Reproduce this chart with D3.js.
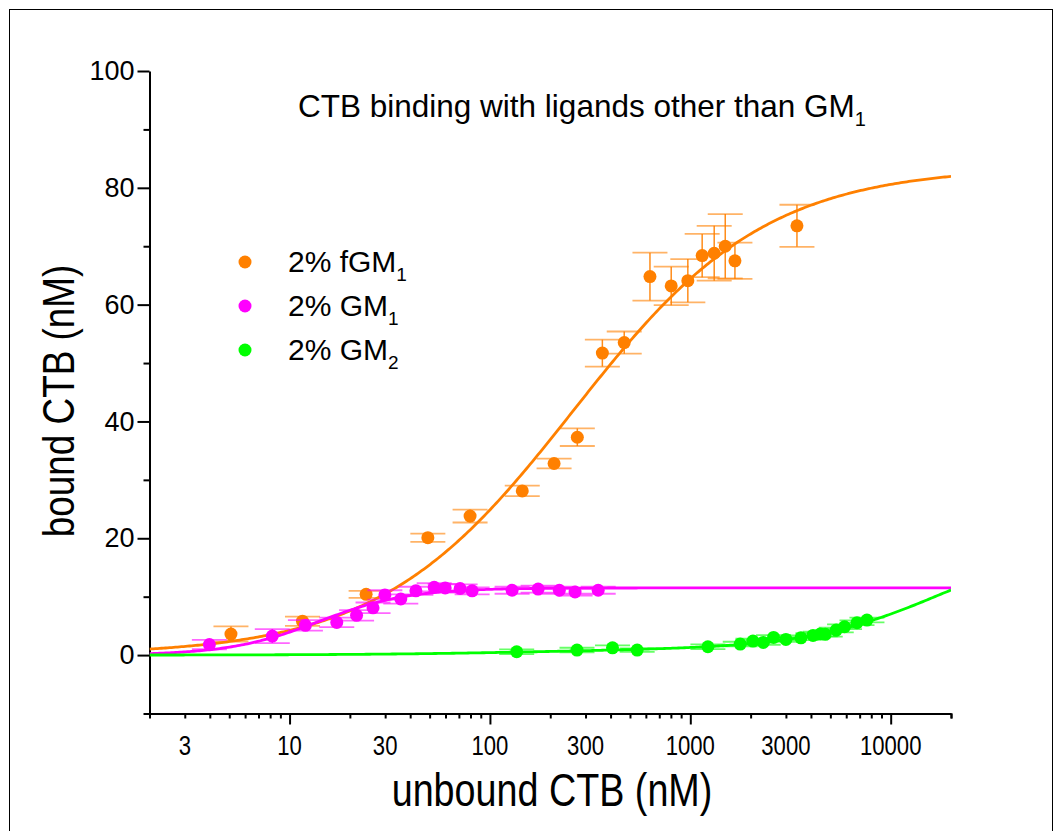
<!DOCTYPE html>
<html>
<head>
<meta charset="utf-8">
<script src="https://cdn.jsdelivr.net/npm/d3@7"></script>
<style>
  html, body { margin: 0; padding: 0; background: #fff; }
  svg { display: block; }
  text { font-family: "Liberation Sans", Arial, sans-serif; fill: #000; }
</style>
</head>
<body>
<svg id="chart" width="1055" height="831"></svg>
<script>
// ---- measured data: unbound CTB (nM) vs bound CTB (nM) ----
const fgm1X = [5.1, 11.6, 24.1, 49, 79.6, 145, 209, 273, 364, 468, 629, 803, 972, 1146, 1316, 1494, 1670, 3406];
const fgm1Y = [3.6, 5.8, 10.4, 20.1, 23.8, 28.1, 32.8, 37.3, 51.7, 53.5, 64.8, 63.2, 64.1, 68.4, 68.8, 70.0, 67.5, 73.5];
const fgm1Err = [1.3, 0.8, 0.6, 0.7, 1.1, 0.9, 0.85, 1.5, 2.3, 1.9, 4.1, 3.3, 3.7, 3.7, 4.7, 5.5, 3.1, 3.6];

const gm1X = [3.98, 8.2, 12.0, 17.2, 21.6, 26.1, 29.9, 35.9, 42.7, 52.7, 59.8, 71, 81.5, 129, 174, 222, 266, 347];
const gm1Y = [1.8, 3.25, 5.1, 5.6, 6.8, 8.1, 10.3, 9.6, 11.0, 11.6, 11.5, 11.4, 11.0, 11.1, 11.3, 11.1, 10.8, 11.1];
const gm1Err = [0.8, 1.2, 0.9, 0.8, 0.9, 0.9, 0.8, 0.8, 0.7, 0.7, 0.7, 0.7, 0.6, 0.6, 0.6, 0.6, 0.6, 0.6];

const gm2X = [136, 272, 409, 543, 1224, 1775, 2054, 2312, 2603, 3000, 3566, 4096, 4452, 4714, 5350, 5886, 6790, 7614];
const gm2Y = [0.57, 0.86, 1.25, 0.86, 1.43, 1.88, 2.4, 2.17, 3.03, 2.68, 2.96, 3.37, 3.6, 3.55, 4.28, 4.85, 5.54, 6.0];
const gm2Err = [0.4, 0.4, 0.4, 0.3, 0.4, 0.4, 0.4, 0.4, 0.4, 0.4, 0.4, 0.4, 0.4, 0.4, 0.4, 0.4, 0.4, 0.4];

// ---- fitted binding models ----
// Hill: [Bmax, Kd, n]
const fgm1Fit = [83.6, 260, 0.9];
const gm1Fit = [11.5, 14, 1.95];
// two sites: [B1, K1, B2, K2, n2]
const gm2Fit = [1.0, 150, 19, 18000, 1.3];

// ---- axes ----
const xDomain = [2, 20000];
const yDomain = [-10, 100];
const xMajorTicks = [10, 100, 1000, 10000];
const xLabelTicks = [3, 10, 30, 100, 300, 1000, 3000, 10000];
const yMajorTicks = [0, 20, 40, 60, 80, 100];
const yMinorTicks = [-10, 10, 30, 50, 70, 90];

const seriesNames = ["2% fGM", "2% GM", "2% GM"];
const seriesSubs = ["1", "1", "2"];
const colors = ["#FF8000", "#FF00FF", "#00FF00"];

const svg = d3.select("#chart");

// outer frame
svg.append("rect")
  .attr("x", 9.5).attr("y", 9.5).attr("width", 1043).attr("height", 900)
  .attr("fill", "none").attr("stroke", "#000").attr("stroke-width", 1);

const x = d3.scaleLog().domain(xDomain).range([149.5, 951]);
const y = d3.scaleLinear().domain(yDomain).range([713.5, 71]);

const hill = (p) => (c) => p[0] * Math.pow(c, p[2]) / (Math.pow(p[1], p[2]) + Math.pow(c, p[2]));
const twoSite = (p) => (c) => p[0] * c / (p[1] + c) + p[2] * Math.pow(c, p[4]) / (Math.pow(p[3], p[4]) + Math.pow(c, p[4]));
const models = [hill(fgm1Fit), hill(gm1Fit), twoSite(gm2Fit)];

// clip area
svg.append("defs").append("clipPath").attr("id", "plotClip")
  .append("rect").attr("x", 149.5).attr("y", 71).attr("width", 951 - 149.5).attr("height", 713.5 - 71);

// minor x ticks: 2..9 per decade
const xMinorTicks = [];
for (let d = 1; d <= 10000; d *= 10) {
  for (let k = 2; k <= 9; k++) {
    const v = k * d;
    if (v >= xDomain[0] && v <= xDomain[1] && !xMajorTicks.includes(v)) xMinorTicks.push(v);
  }
}
xMinorTicks.push(20000);

const axisStroke = (g) => {
  g.selectAll("path, line").attr("stroke", "#000").attr("stroke-width", 2);
};

// x axis minor ticks
svg.append("g").attr("transform", "translate(0,713.5)")
  .call(d3.axisBottom(x).tickValues(xMinorTicks).tickSize(5).tickSizeOuter(0).tickFormat(""))
  .call(axisStroke);
// x axis major ticks
svg.append("g").attr("transform", "translate(0,713.5)")
  .call(d3.axisBottom(x).tickValues(xMajorTicks).tickSize(11).tickSizeOuter(0).tickFormat(""))
  .call(axisStroke)
  .call(g => g.select(".domain").remove());
// x tick labels
svg.append("g").selectAll("text").data(xLabelTicks).join("text")
  .attr("transform", d => `translate(${x(d)},755) scale(0.82,1)`)
  .attr("text-anchor", "middle")
  .attr("font-size", 27)
  .text(d => d);

// y axis
svg.append("g").attr("transform", "translate(149.5,0)")
  .call(d3.axisLeft(y).tickValues(yMinorTicks).tickSize(6).tickSizeOuter(0).tickFormat(""))
  .call(axisStroke);
svg.append("g").attr("transform", "translate(149.5,0)")
  .call(d3.axisLeft(y).tickValues(yMajorTicks).tickSize(12).tickSizeOuter(0).tickPadding(3).tickFormat(d3.format("d")))
  .call(axisStroke)
  .call(g => g.select(".domain").remove())
  .call(g => g.selectAll("text").attr("font-size", 27).attr("font-family", "Liberation Sans, Arial, sans-serif").attr("fill", "#000"));

// axis titles
svg.append("text")
  .attr("transform", "translate(552,806) scale(0.82,1)")
  .attr("text-anchor", "middle").attr("font-size", 46)
  .text("unbound CTB (nM)");
svg.append("text")
  .attr("transform", "translate(74,401) rotate(-90) scale(0.82,1)")
  .attr("text-anchor", "middle").attr("font-size", 45)
  .text("bound CTB (nM)");

// chart title
const title = svg.append("text").attr("x", 298).attr("y", 117).attr("font-size", 31.5);
title.append("tspan").text("CTB binding with ligands other than GM");
title.append("tspan").attr("font-size", 20).attr("dy", 9).text("1");

// ---- series ----
const plot = svg.append("g").attr("clip-path", "url(#plotClip)");
const seriesData = [
  fgm1X.map((v, i) => ({ x: v, y: fgm1Y[i], e: fgm1Err[i] })),
  gm1X.map((v, i) => ({ x: v, y: gm1Y[i], e: gm1Err[i] })),
  gm2X.map((v, i) => ({ x: v, y: gm2Y[i], e: gm2Err[i] }))
];

const line = d3.line().x(d => x(d[0])).y(d => y(d[1]));
const samples = d3.range(0, 401).map(i => Math.pow(10, Math.log10(xDomain[0]) + i / 400 * (Math.log10(xDomain[1]) - Math.log10(xDomain[0]))));

seriesData.forEach((pts, si) => {
  const c = colors[si];
  const g = plot.append("g");
  // error bars with wide caps
  const eb = g.append("g");
  eb.selectAll("line.stem").data(pts).join("line")
    .attr("x1", d => x(d.x)).attr("x2", d => x(d.x))
    .attr("y1", d => y(d.y + d.e)).attr("y2", d => y(d.y - d.e))
    .attr("stroke", c).attr("stroke-width", 1.5).attr("stroke-opacity", 0.9);
  ["+", "-"].forEach(sgn => {
    eb.selectAll("line.cap" + (sgn === "+" ? "t" : "b")).data(pts).join("line")
      .attr("x1", d => x(d.x) - 17.5).attr("x2", d => x(d.x) + 17.5)
      .attr("y1", d => y(sgn === "+" ? d.y + d.e : d.y - d.e))
      .attr("y2", d => y(sgn === "+" ? d.y + d.e : d.y - d.e))
      .attr("stroke", c).attr("stroke-width", 1.8).attr("stroke-opacity", 0.6);
  });
  // fitted curve
  g.append("path")
    .datum(samples.map(s => [s, models[si](s)]))
    .attr("d", line).attr("fill", "none")
    .attr("stroke", c).attr("stroke-width", 2.8);
  // points
  g.selectAll("circle").data(pts).join("circle")
    .attr("cx", d => x(d.x)).attr("cy", d => y(d.y)).attr("r", 6.5)
    .attr("fill", c);
});

// ---- legend ----
const legendY = [262, 306, 350];
const legend = svg.append("g");
seriesNames.forEach((name, i) => {
  legend.append("circle").attr("cx", 245).attr("cy", legendY[i]).attr("r", 6.5).attr("fill", colors[i]);
  const t = legend.append("text").attr("x", 288).attr("y", legendY[i] + 10).attr("font-size", 30);
  t.append("tspan").text(name);
  t.append("tspan").attr("font-size", 19).attr("dy", 9).text(seriesSubs[i]);
});
</script>
</body>
</html>
